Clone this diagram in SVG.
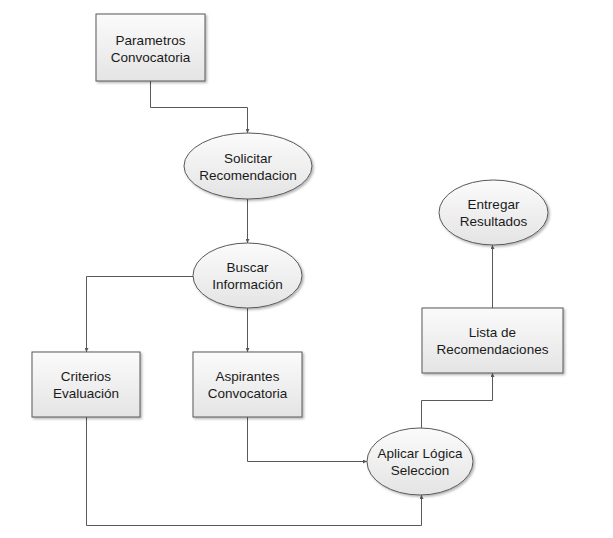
<svg xmlns="http://www.w3.org/2000/svg" width="613" height="538" viewBox="0 0 613 538">
<defs>
<linearGradient id="g" x1="0" y1="0" x2="0" y2="1">
<stop offset="0" stop-color="#fbfbfb"/>
<stop offset="1" stop-color="#e4e4e4"/>
</linearGradient>
<marker id="a" markerWidth="4" markerHeight="4" refX="4" refY="2" orient="auto" markerUnits="userSpaceOnUse">
<path d="M0,0 L4,2 L0,4 Z" fill="#595959"/>
</marker>
<filter id="s" x="-10%" y="-10%" width="130%" height="130%">
<feDropShadow dx="1.5" dy="1.5" stdDeviation="0.8" flood-color="#000" flood-opacity="0.3"/>
</filter>
</defs>
<style>
.n{fill:url(#g);stroke:#595959;stroke-width:1;filter:url(#s)}
.t{font-family:"Liberation Sans",Arial,sans-serif;font-size:13.5px;fill:#1a1a1a;text-anchor:middle}
.c{fill:none;stroke:#595959;stroke-width:1;marker-end:url(#a)}
</style>
<rect width="613" height="538" fill="#fff"/>
<g id="connectors">
<path class="c" d="M150.5,81 V107.5 H247.5 V133"/>
<path class="c" d="M247.5,199 V243"/>
<path class="c" d="M193,276.5 H86.5 V352"/>
<path class="c" d="M247.5,308 V352"/>
<path class="c" d="M247.5,417 V461.5 H367"/>
<path class="c" d="M86.5,417 V525.5 H421.5 V495"/>
<path class="c" d="M421.5,428 V400.5 H492.5 V373"/>
<path class="c" d="M492.5,308 V245"/>
</g>
<g id="parametros">
<rect class="n" x="96" y="14" width="109" height="67"/>
<text class="t" x="150.5" y="45">Parametros</text>
<text class="t" x="150.5" y="62">Convocatoria</text>
</g>
<g id="solicitar">
<ellipse class="n" cx="248" cy="166" rx="64" ry="33"/>
<text class="t" x="248" y="163">Solicitar</text>
<text class="t" x="248" y="180">Recomendacion</text>
</g>
<g id="buscar">
<ellipse class="n" cx="247.5" cy="275.5" rx="54.5" ry="32.5"/>
<text class="t" x="247.5" y="272">Buscar</text>
<text class="t" x="247.5" y="289">Información</text>
</g>
<g id="criterios">
<rect class="n" x="32" y="352" width="108" height="65"/>
<text class="t" x="86" y="381">Criterios</text>
<text class="t" x="86" y="398">Evaluación</text>
</g>
<g id="aspirantes">
<rect class="n" x="193" y="352" width="109" height="65"/>
<text class="t" x="247.5" y="381">Aspirantes</text>
<text class="t" x="247.5" y="398">Convocatoria</text>
</g>
<g id="aplicar">
<ellipse class="n" cx="420" cy="461.5" rx="53" ry="33.5"/>
<text class="t" x="420" y="458">Aplicar Lógica</text>
<text class="t" x="420" y="475">Seleccion</text>
</g>
<g id="lista">
<rect class="n" x="422" y="308" width="141" height="65"/>
<text class="t" x="492.5" y="337">Lista de</text>
<text class="t" x="492.5" y="354">Recomendaciones</text>
</g>
<g id="entregar">
<ellipse class="n" cx="493.5" cy="212.5" rx="54.5" ry="32.5"/>
<text class="t" x="493.5" y="209">Entregar</text>
<text class="t" x="493.5" y="226">Resultados</text>
</g>
</svg>
